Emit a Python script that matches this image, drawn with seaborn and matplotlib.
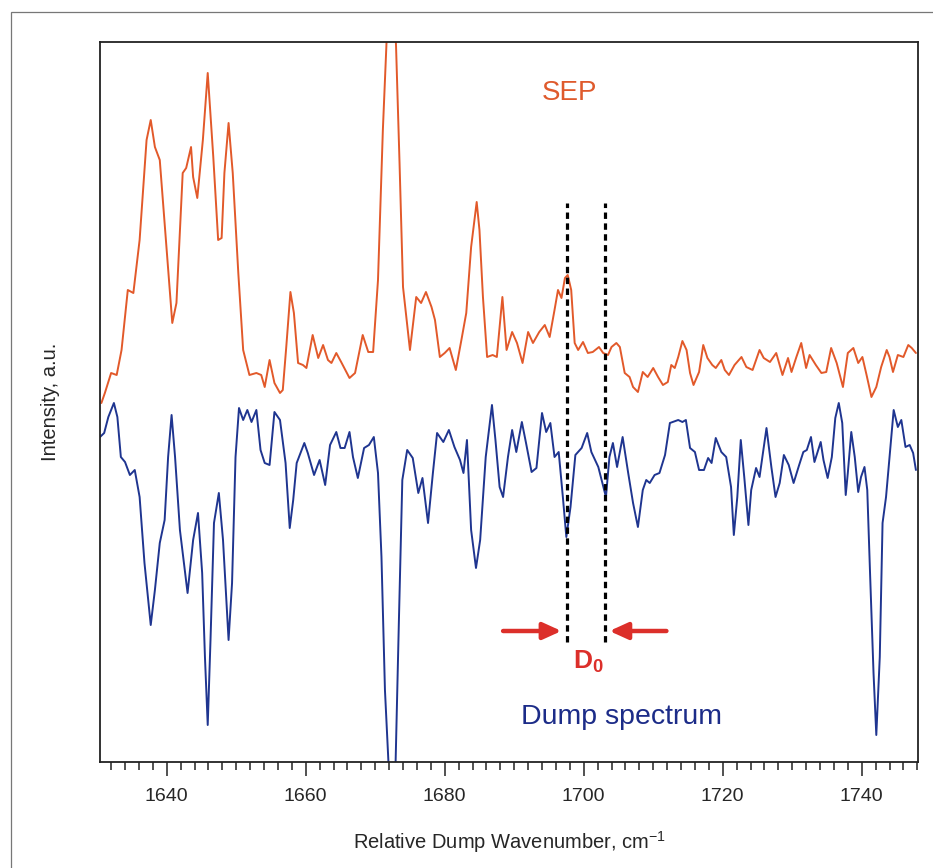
import numpy as np
import pandas as pd
import matplotlib
matplotlib.use("Agg")
import matplotlib.pyplot as plt
import matplotlib.patches as patches
import seaborn as sns

# SEP trace (wavenumber, intensity a.u.)
sep_x = [1630.6, 1631.1, 1632.0, 1632.8, 1633.5, 1634.4, 1635.2, 1636.1, 1637.1, 1637.7,
         1638.3, 1639.0, 1639.7, 1640.8, 1641.4, 1642.3, 1642.8, 1643.5, 1643.8, 1644.4,
         1645.2, 1645.9, 1646.7, 1647.4, 1647.9, 1648.3, 1648.9, 1649.5, 1650.3, 1651.0,
         1651.9, 1652.9, 1653.6, 1654.1, 1654.8, 1655.5, 1656.3, 1656.7, 1657.2, 1657.8,
         1658.3, 1658.9, 1659.6, 1660.1, 1661.0, 1661.8, 1662.5, 1663.2, 1663.7, 1664.4,
         1665.1, 1666.3, 1667.1, 1668.2, 1669.0, 1669.7, 1670.4, 1671.1, 1671.6, 1672.3,
         1673.0, 1673.5, 1674.0, 1675.0, 1675.9, 1676.6, 1677.3, 1678.1, 1678.6, 1679.3,
         1680.0, 1680.7, 1681.6, 1682.4, 1683.1, 1683.8, 1684.6, 1685.0, 1685.5, 1686.1,
         1686.9, 1687.5, 1688.3, 1688.9, 1689.7, 1690.4, 1691.2, 1692.0, 1692.7, 1693.6,
         1694.4, 1695.1, 1695.8, 1696.3, 1696.8, 1697.3, 1697.7, 1698.2, 1698.7, 1699.2,
         1699.9, 1700.6, 1701.3, 1702.2, 1702.8, 1703.5, 1704.0, 1704.7, 1705.2, 1705.9,
         1706.6, 1707.1, 1707.8, 1708.5, 1709.2, 1710.0, 1710.7, 1711.4, 1712.1, 1712.6,
         1713.1, 1713.6, 1714.2, 1714.8, 1715.3, 1715.8, 1716.6, 1717.2, 1717.8, 1718.5,
         1719.0, 1719.8, 1720.3, 1720.9, 1721.7, 1722.7, 1723.4, 1724.3, 1725.3, 1725.9,
         1726.8, 1727.7, 1728.6, 1729.4, 1729.9, 1730.6, 1731.3, 1732.0, 1732.5, 1733.4,
         1734.2, 1734.9, 1735.6, 1736.4, 1737.3, 1738.0, 1738.8, 1739.5, 1740.1, 1740.7,
         1741.4, 1742.1, 1742.8, 1743.6, 1744.0, 1744.5, 1745.2, 1746.0, 1746.7, 1747.2,
         1747.8]
sep_y = [35.9, 36.9, 38.9, 38.7, 41.2, 47.2, 46.9, 52.2, 62.2, 64.2,
         61.5, 60.2, 53.9, 43.9, 45.9, 58.9, 59.4, 61.5, 58.5, 56.4,
         62.2, 68.9, 60.5, 52.2, 52.4, 58.9, 63.9, 58.9, 48.9, 41.2,
         38.7, 38.9, 38.7, 37.5, 40.2, 37.9, 36.9, 37.2, 41.5, 47.0,
         44.9, 39.9, 39.7, 39.4, 42.7, 40.4, 41.7, 40.2, 39.9, 40.9,
         40.0, 38.4, 38.9, 42.7, 41.0, 41.0, 48.2, 63.2, 71.5, 85.0,
         71.5, 59.9, 47.5, 41.2, 46.5, 45.9, 47.0, 45.5, 44.2, 40.5,
         40.9, 41.4, 39.2, 42.2, 44.9, 51.5, 56.0, 53.2, 46.5, 40.5,
         40.7, 40.5, 46.5, 41.2, 43.0, 41.9, 39.9, 43.0, 41.9, 43.0,
         43.7, 42.5, 45.2, 47.2, 46.4, 48.4, 48.7, 47.2, 41.9, 41.2,
         42.0, 40.9, 41.0, 41.5, 40.9, 40.7, 41.5, 41.9, 41.5, 38.9,
         38.5, 37.5, 37.0, 39.0, 38.5, 39.4, 38.5, 37.7, 38.0, 39.7,
         39.4, 40.5, 42.1, 41.2, 38.9, 37.7, 39.0, 41.7, 40.4, 39.7,
         39.4, 40.2, 39.2, 38.7, 39.7, 40.5, 39.5, 39.2, 41.2, 40.4,
         40.0, 40.9, 38.7, 40.4, 39.0, 40.5, 41.9, 39.4, 40.7, 39.7,
         38.9, 39.0, 41.4, 39.9, 37.5, 40.9, 41.4, 39.9, 40.5, 38.7,
         36.5, 37.5, 39.5, 41.2, 40.5, 39.0, 40.7, 40.5, 41.7, 41.4,
         40.9]

# Dump spectrum trace
dump_x = [1630.4, 1631.0, 1631.6, 1632.4, 1632.9, 1633.4, 1634.0, 1634.7, 1635.4, 1636.1,
          1636.8, 1637.7, 1638.3, 1639.0, 1639.7, 1640.2, 1640.7, 1641.2, 1641.9, 1643.0,
          1643.8, 1644.5, 1645.1, 1645.5, 1645.9, 1646.3, 1646.8, 1647.5, 1648.1, 1648.9,
          1649.4, 1649.9, 1650.4, 1651.0, 1651.6, 1652.2, 1652.9, 1653.5, 1654.1, 1654.8,
          1655.5, 1656.3, 1657.1, 1657.7, 1658.2, 1658.7, 1659.8, 1660.3, 1661.2, 1662.0,
          1662.8, 1663.5, 1664.4, 1665.0, 1665.6, 1666.3, 1666.8, 1667.5, 1668.4, 1669.1,
          1669.8, 1670.4, 1670.9, 1671.4, 1672.6, 1673.4, 1673.9, 1674.6, 1675.4, 1676.2,
          1676.8, 1677.6, 1678.3, 1678.9, 1679.8, 1680.6, 1681.4, 1682.2, 1682.7, 1683.2,
          1683.8, 1684.5, 1685.1, 1685.9, 1686.8, 1687.3, 1687.9, 1688.4, 1689.1, 1689.7,
          1690.3, 1691.1, 1691.7, 1692.5, 1693.2, 1694.0, 1694.6, 1695.2, 1695.8, 1696.4,
          1697.0, 1697.5, 1698.1, 1698.8, 1699.7, 1700.5, 1701.1, 1702.1, 1703.2, 1703.7,
          1704.2, 1704.8, 1705.6, 1706.4, 1707.1, 1707.8, 1708.5, 1709.0, 1709.5, 1710.2,
          1710.9, 1711.7, 1712.4, 1712.8, 1713.6, 1714.2, 1714.7, 1715.3, 1716.0, 1716.6,
          1717.3, 1717.9, 1718.4, 1719.0, 1719.8, 1720.5, 1721.2, 1721.6, 1722.1, 1722.6,
          1723.1, 1723.7, 1724.1, 1724.8, 1725.3, 1726.3, 1727.0, 1727.6, 1728.2, 1728.8,
          1729.5, 1730.2, 1731.0, 1731.6, 1732.1, 1732.7, 1733.2, 1734.1, 1734.5, 1735.1,
          1735.7, 1736.2, 1736.7, 1737.2, 1737.7, 1738.0, 1738.5, 1739.0, 1739.5, 1739.9,
          1740.4, 1740.8, 1741.2, 1741.7, 1742.1, 1742.6, 1743.0, 1743.5, 1744.0, 1744.6,
          1745.2, 1745.7, 1746.3, 1746.9, 1747.4, 1747.8]
dump_y = [32.5, 32.9, 34.5, 35.9, 34.5, 30.5, 30.0, 28.7, 29.2, 26.5,
          19.9, 13.7, 17.2, 21.9, 24.2, 30.5, 34.7, 30.5, 23.2, 16.9,
          22.2, 24.9, 18.9, 10.5, 3.7, 12.2, 23.9, 26.9, 22.2, 12.2,
          17.9, 30.5, 35.4, 34.2, 35.2, 34.0, 35.2, 31.2, 29.9, 29.7,
          35.0, 34.2, 29.9, 23.4, 26.2, 29.9, 31.9, 30.9, 28.7, 30.2,
          27.7, 31.7, 33.0, 31.4, 31.4, 33.0, 30.5, 28.4, 31.4, 31.7,
          32.5, 28.9, 20.5, 7.2, -10.0, 13.9, 28.2, 31.2, 30.4, 26.9,
          28.4, 23.9, 28.9, 32.9, 32.0, 33.2, 31.5, 30.2, 28.9, 32.2,
          23.2, 19.4, 22.2, 30.5, 35.7, 32.2, 27.5, 26.5, 30.5, 33.2,
          31.0, 34.0, 31.9, 29.0, 29.4, 34.9, 33.0, 33.9, 30.5, 31.0,
          26.5, 22.5, 25.5, 30.7, 31.4, 32.9, 31.0, 29.5, 26.5, 30.5,
          31.9, 29.5, 32.5, 28.9, 25.9, 23.5, 27.2, 28.2, 27.9, 28.7,
          28.9, 30.7, 33.9, 34.0, 34.2, 34.0, 34.2, 31.4, 31.0, 29.2,
          29.2, 30.4, 29.9, 32.4, 31.0, 30.5, 27.5, 22.7, 26.5, 32.2,
          28.5, 23.7, 27.2, 29.4, 28.5, 33.4, 29.5, 26.5, 27.9, 30.7,
          29.7, 27.9, 29.7, 31.0, 31.2, 32.5, 30.0, 32.0, 30.2, 28.4,
          30.5, 34.4, 35.9, 33.9, 26.7, 28.9, 33.0, 30.5, 27.0, 28.5,
          29.5, 27.2, 18.9, 8.9, 2.7, 10.5, 23.9, 26.5, 30.5, 35.2,
          33.5, 34.2, 31.5, 31.7, 30.9, 29.2]

# D0 marker lines and arrows
d0_lines = [1697.6, 1703.1]
d0_span = (12.0, 55.9)
arrow_left = (1688.4, 1696.8)
arrow_right = (1711.9, 1703.7)
arrow_level = 13.1

orange = "#e2592a"
blue = "#1f3590"
red = "#dc2f2a"

sns.set_style("white")
plt.rcParams['font.family'] = ['Liberation Sans', 'DejaVu Sans']
plt.rcParams['mathtext.fontset'] = 'custom'
plt.rcParams['mathtext.rm'] = 'Liberation Sans'
plt.rcParams['mathtext.it'] = 'Liberation Sans:italic'
plt.rcParams['mathtext.bf'] = 'Liberation Sans:bold'

fig = plt.figure(figsize=(9.33, 8.68), dpi=100)
ax = fig.add_axes([100 / 933, 106 / 868, 818 / 933, 720 / 868])

sep = pd.DataFrame({'x': sep_x, 'y': sep_y})
dump = pd.DataFrame({'x': dump_x, 'y': dump_y})
sns.lineplot(data=sep, x='x', y='y', ax=ax, color=orange, lw=1.4, sort=False)
sns.lineplot(data=dump, x='x', y='y', ax=ax, color=blue, lw=1.4, sort=False)

for xv in d0_lines:
    ax.plot([xv, xv], d0_span, color='black', lw=2.3, linestyle=(0, (2, 1.4)))

for x0, x1 in [arrow_left, arrow_right]:
    ax.annotate('', xy=(x1, arrow_level), xytext=(x0, arrow_level),
                arrowprops=dict(arrowstyle='-|>,head_length=0.55,head_width=0.25',
                                color=red, lw=3.2, mutation_scale=20,
                                shrinkA=0, shrinkB=0))

ax.text(1700.7, 10.0, r'$\mathbf{D_0}$', color=red, fontsize=19, ha='center', va='center')
ax.text(1705.5, 4.5, 'Dump spectrum', color='#1c2c88', fontsize=20.5, ha='center', va='center')
ax.text(1698.0, 66.9, 'SEP', color='#df5a2c', fontsize=20, ha='center', va='center')

ax.set_xlim(1630.4, 1748.1)
ax.set_ylim(0, 72)
ax.set_yticks([])
ax.set_xticks(np.arange(1640, 1741, 20))
ax.set_xticks(np.arange(1632, 1749, 2), minor=True)
ax.tick_params(axis='x', which='major', direction='out', length=10, width=1.1,
               labelsize=14, pad=9, bottom=True, color='#222222')
ax.tick_params(axis='x', which='minor', direction='out', length=5.5, width=1.1,
               bottom=True, color='#222222')
ax.set_xlabel('Relative Dump Wavenumber, cm$^{-1}$', fontsize=14.5, labelpad=17)
ax.set_ylabel('Intensity, a.u.', fontsize=14.5, labelpad=29)

for sp in ax.spines.values():
    sp.set_color('#222222')
    sp.set_linewidth(1.3)

# outer frame of the figure panel
fig.add_artist(patches.Rectangle((10.5 / 933, -0.05), 1.1, 1 - 12.0 / 868 + 0.05,
                                 transform=fig.transFigure, fill=False,
                                 edgecolor='#777777', lw=0.9))

fig.savefig('out.png', dpi=100)
